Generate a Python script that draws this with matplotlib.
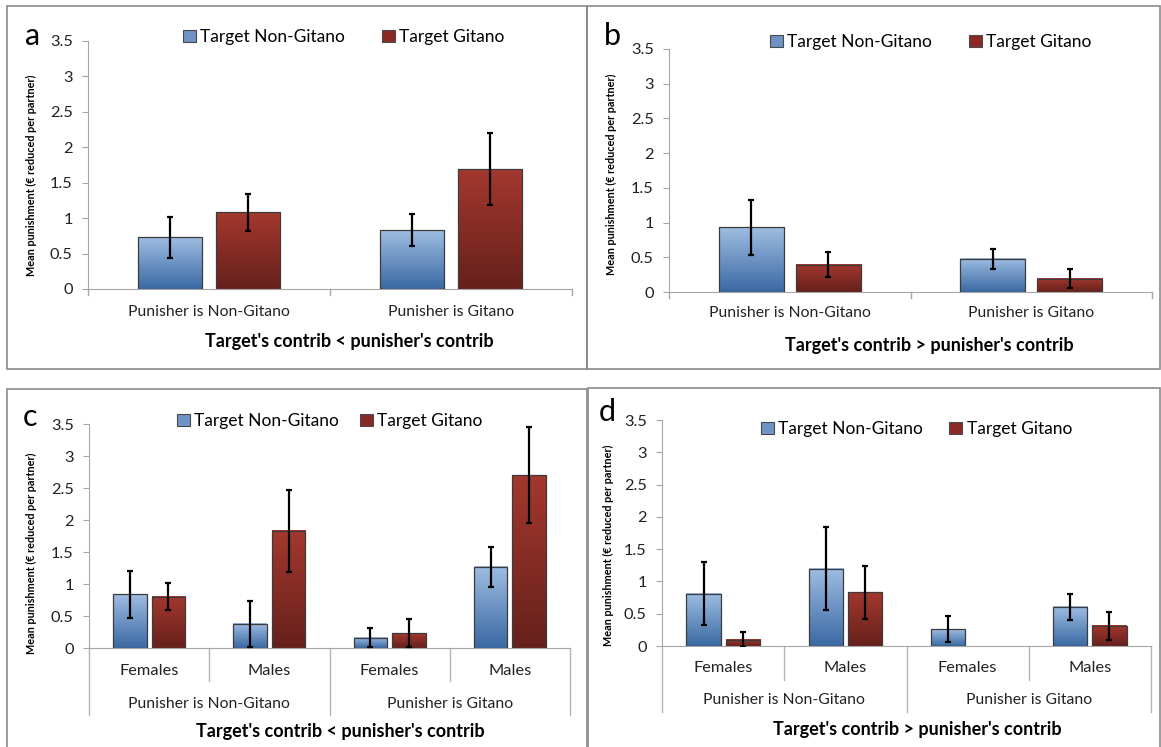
import matplotlib
matplotlib.use("Agg")
import matplotlib.pyplot as plt
import numpy as np
from matplotlib.colors import LinearSegmentedColormap
from matplotlib.patches import Rectangle, Patch

plt.rcParams['font.family'] = ['Lato', 'DejaVu Sans']

# ---- data ----
series = ['Target Non-Gitano', 'Target Gitano']
groups = ['Punisher is Non-Gitano', 'Punisher is Gitano']
sexes = ['Females', 'Males', 'Females', 'Males']

a_ng = [0.73, 0.83]
a_ng_err = [0.29, 0.23]
a_g = [1.08, 1.69]
a_g_err = [0.26, 0.51]

b_ng = [0.93, 0.48]
b_ng_err = [0.39, 0.145]
b_g = [0.39, 0.19]
b_g_err = [0.18, 0.135]

c_ng = [0.84, 0.38, 0.16, 1.27]
c_ng_err = [0.37, 0.36, 0.15, 0.31]
c_g = [0.80, 1.83, 0.23, 2.70]
c_g_err = [0.21, 0.64, 0.22, 0.75]

d_ng = [0.81, 1.20, 0.26, 0.61]
d_ng_err = [0.49, 0.65, 0.20, 0.20]
d_g = [0.10, 0.83, 0.0, 0.31]
d_g_err = [0.11, 0.41, 0.0, 0.22]

W, H = 1161, 747
fig = plt.figure(figsize=(W/100, H/100), dpi=100)

blue_cm = LinearSegmentedColormap.from_list('b', ['#3a69a3', '#9fbde2'])
red_cm = LinearSegmentedColormap.from_list('r', ['#66201b', '#a3382f'])
grad = np.linspace(0, 1, 256).reshape(-1, 1)
AX_GRAY = '#a6a6a6'
LBL = 11.3


def frame(x0, y0, x1, y1):
    fig.add_artist(Rectangle((x0/W, 1-y1/H), (x1-x0)/W, (y1-y0)/H,
                             transform=fig.transFigure, fill=False,
                             edgecolor='#8a8a8a', lw=1.2))


def make_axes(x0, x1, yzero, ytop):
    ax = fig.add_axes([x0/W, 1-yzero/H, (x1-x0)/W, (yzero-ytop)/H])
    ax.set_ylim(0, 3.5)
    ax.set_yticks(np.arange(0, 3.6, 0.5))
    ax.set_yticklabels(['0', '0.5', '1', '1.5', '2', '2.5', '3', '3.5'])
    for s in ['top', 'right']:
        ax.spines[s].set_visible(False)
    ax.spines['left'].set_color(AX_GRAY)
    ax.spines['bottom'].set_color(AX_GRAY)
    ax.tick_params(axis='y', length=4, color=AX_GRAY, labelsize=11.8,
                   labelcolor='#222222', pad=7)
    ax.set_xticks([])
    ax.patch.set_alpha(0)
    return ax


def gbar(ax, x, h, w, cm):
    if h <= 0:
        return
    ax.imshow(grad, extent=[x-w/2, x+w/2, 0, h], origin='lower',
              aspect='auto', cmap=cm, zorder=2)
    ax.add_patch(Rectangle((x-w/2, 0), w, h, fill=False,
                           edgecolor='#3c3c3c', lw=0.9, zorder=3))


def draw_bars(ax, ng, ng_err, g, g_err, w):
    n = len(ng)
    x = np.arange(n)
    off = 0.16
    for i in range(n):
        gbar(ax, x[i]-off, ng[i], w, blue_cm)
        gbar(ax, x[i]+off, g[i], w, red_cm)
        if ng_err[i] > 0:
            ax.errorbar(x[i]-off, ng[i], yerr=ng_err[i], fmt='none',
                        ecolor='black', elinewidth=1.6, capsize=2,
                        capthick=1.6, zorder=4)
        if g_err[i] > 0:
            ax.errorbar(x[i]+off, g[i], yerr=g_err[i], fmt='none',
                        ecolor='black', elinewidth=1.6, capsize=2,
                        capthick=1.6, zorder=4)
    ax.set_xlim(-0.5, n-0.5)
    ax.set_ylim(0, 3.5)


def yfrac(yzero, ytop, ypix):
    return (yzero-ypix)/(yzero-ytop)


def legend(ax, xpix, ypix, colsp):
    handles = [Patch(facecolor='#6f93c4', edgecolor='#4a4a4a', lw=0.8),
               Patch(facecolor='#8a2a25', edgecolor='#4a4a4a', lw=0.8)]
    ax.legend(handles, series, loc='center left', ncol=2, frameon=False,
              bbox_to_anchor=(xpix/W, 1-ypix/H), bbox_transform=fig.transFigure,
              fontsize=12.5, handlelength=0.75, handleheight=0.75,
              handletextpad=0.25, columnspacing=colsp, borderaxespad=0,
              borderpad=0)


def common(ax, letter, lx, ly, ylx, yly, title, tx, ty):
    fig.text(lx/W, 1-ly/H, letter, fontsize=22, ha='center', va='center')
    fig.text(ylx/W, 1-yly/H, 'Mean punishment (€ reduced per partner)',
             rotation=90, fontsize=7.8, fontweight='bold', ha='center', va='center')
    fig.text(tx/W, 1-ty/H, title, fontsize=13, fontweight='bold',
             ha='center', va='center')


frame(7, 6, 587, 369)
frame(587, 6, 1160, 369)
frame(7, 389, 587, 760)
frame(588, 388, 1160, 760)

title_lt = "Target's contrib < punisher's contrib"
title_gt = "Target's contrib > punisher's contrib"

# ---- panel a ----
ya0, yat = 289, 41
ax = make_axes(88, 572, ya0, yat)
draw_bars(ax, a_ng, a_ng_err, a_g, a_g_err, 0.265)
tr = ax.get_xaxis_transform()
for xb in [-0.5, 0.5, 1.5]:
    ax.plot([xb, xb], [0, yfrac(ya0, yat, 295)], color=AX_GRAY, lw=1,
            transform=tr, clip_on=False)
for i, gname in enumerate(groups):
    ax.text(i, yfrac(ya0, yat, 312), gname, transform=tr, ha='center',
            va='center', fontsize=LBL, color='#222222')
legend(ax, 183, 37, 2.1)
common(ax, 'a', 33, 36, 31, 175, title_lt, 349, 341)

# ---- panel b ----
yb0, ybt = 292, 49
ax = make_axes(669, 1152, yb0, ybt)
draw_bars(ax, b_ng, b_ng_err, b_g, b_g_err, 0.27)
tr = ax.get_xaxis_transform()
for xb in [-0.5, 0.5, 1.5]:
    ax.plot([xb, xb], [0, yfrac(yb0, ybt, 298)], color=AX_GRAY, lw=1,
            transform=tr, clip_on=False)
for i, gname in enumerate(groups):
    ax.text(i, yfrac(yb0, ybt, 313), gname, transform=tr, ha='center',
            va='center', fontsize=LBL, color='#222222')
legend(ax, 770, 42, 2.1)
common(ax, 'b', 612, 36, 611, 174, title_gt, 929, 345)


def sex_axis(ax, yzero, ytop, ysex, ygrp, yshort, ylong):
    tr = ax.get_xaxis_transform()
    for xb in [-0.5, 1.5, 3.5]:
        ax.plot([xb, xb], [0, yfrac(yzero, ytop, ylong)], color='#b4b4b4',
                lw=1, transform=tr, clip_on=False)
    for xb in [0.5, 2.5]:
        ax.plot([xb, xb], [0, yfrac(yzero, ytop, yshort)], color='#b4b4b4',
                lw=1, transform=tr, clip_on=False)
    for i, s in enumerate(sexes):
        ax.text(i, yfrac(yzero, ytop, ysex), s, transform=tr, ha='center',
                va='center', fontsize=LBL+0.5, color='#222222')
    for i, gname in enumerate(groups):
        ax.text(2*i+0.5, yfrac(yzero, ytop, ygrp), gname, transform=tr,
                ha='center', va='center', fontsize=LBL, color='#222222')


# ---- panel c ----
yc0, yct = 648, 424
ax = make_axes(89, 570, yc0, yct)
draw_bars(ax, c_ng, c_ng_err, c_g, c_g_err, 0.28)
sex_axis(ax, yc0, yct, 671, 704, 681, 715)
legend(ax, 177, 421, 1.2)
common(ax, 'c', 30, 417, 31, 553, title_lt, 340, 732)

# ---- panel d ----
yd0, ydt = 646, 420
ax = make_axes(662, 1151, yd0, ydt)
draw_bars(ax, d_ng, d_ng_err, d_g, d_g_err, 0.28)
sex_axis(ax, yd0, ydt, 668, 700, 680, 712)
legend(ax, 761, 429, 1.5)
common(ax, 'd', 607, 412, 608, 545, title_gt, 917, 730)

plt.savefig('out.png', dpi=100)
